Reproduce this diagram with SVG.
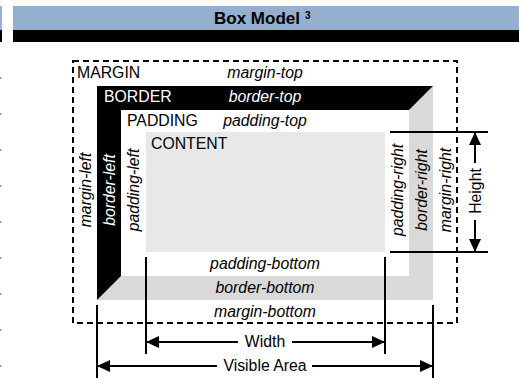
<svg xmlns="http://www.w3.org/2000/svg" width="519" height="379" viewBox="0 0 519 379">
<style>
text{font-family:"Liberation Sans",Arial,sans-serif;font-size:15.8px;fill:#000}
.it{font-style:italic}
.w{fill:#fff}
.m{text-anchor:middle}
.ln{stroke:#000;stroke-width:2;fill:none}
.dot{fill:#999}
</style>
<defs>
<marker id="arr" markerUnits="userSpaceOnUse" markerWidth="13" markerHeight="12" refX="13" refY="6" orient="auto">
<path d="M0,0 L13,6 L0,12 z" fill="#000"/>
</marker>
</defs>
<g id="header">
<rect x="0" y="6" width="2" height="24" fill="#95afce"/>
<rect x="0" y="30" width="2" height="12" fill="#000"/>
<rect x="13" y="6" width="506" height="24" fill="#95afce"/>
<rect x="13" y="30" width="506" height="12" fill="#000"/>
<text x="257" y="24" class="m" style="font-weight:bold;font-size:17px">Box Model</text>
<text x="305" y="19" style="font-weight:bold;font-size:10px">3</text>
</g>
<g id="edge-dots">
<rect class="dot" x="0" y="77" width="1.5" height="2"/>
<rect class="dot" x="0" y="113" width="1.5" height="2"/>
<rect class="dot" x="0" y="149" width="1.5" height="2"/>
<rect class="dot" x="0" y="185" width="1.5" height="2"/>
<rect class="dot" x="0" y="221" width="1.5" height="2"/>
<rect class="dot" x="0" y="257" width="1.5" height="2"/>
<rect class="dot" x="0" y="293" width="1.5" height="2"/>
<rect class="dot" x="0" y="329" width="1.5" height="2"/>
<rect class="dot" x="0" y="365" width="1.5" height="2"/>
</g>
<g id="margin">
<rect x="73" y="61" width="384" height="262" fill="#fff" stroke="#000" stroke-width="2" stroke-dasharray="6 4"/>
<text x="77" y="78">MARGIN</text>
<text x="265" y="78" class="it m">margin-top</text>
<text class="it m" transform="translate(90.5,190) rotate(-90)">margin-left</text>
<text class="it m" transform="translate(450.5,190) rotate(-90)">margin-right</text>
<text x="265" y="317" class="it m">margin-bottom</text>
</g>
<g id="border">
<polygon points="433,86 433,300 97,300 121,276 409,276 409,110" fill="#d9d9d9"/>
<polygon points="97,86 433,86 409,110 121,110 121,276 97,300" fill="#000"/>
<text x="104" y="102" class="w">BORDER</text>
<text x="265" y="102" class="it m w">border-top</text>
<text class="it m w" transform="translate(114.5,190) rotate(-90)">border-left</text>
<text class="it m" transform="translate(426.5,190) rotate(-90)">border-right</text>
<text x="265" y="293" class="it m">border-bottom</text>
</g>
<g id="padding">
<rect x="121" y="110" width="288" height="166" fill="#fff"/>
<text x="127" y="126">PADDING</text>
<text x="265" y="126" class="it m">padding-top</text>
<text class="it m" transform="translate(139,190) rotate(-90)">padding-left</text>
<text class="it m" transform="translate(402.5,190) rotate(-90)">padding-right</text>
<text x="265" y="269" class="it m">padding-bottom</text>
</g>
<g id="content">
<rect x="146" y="132" width="239" height="120" fill="#e8e8e8"/>
<text x="151" y="149">CONTENT</text>
</g>
<g id="connectors">
<line class="ln" x1="390" y1="132" x2="488" y2="132"/>
<line class="ln" x1="390" y1="252" x2="488" y2="252"/>
<line class="ln" x1="475" y1="163" x2="475" y2="132" marker-end="url(#arr)"/>
<line class="ln" x1="475" y1="220" x2="475" y2="252" marker-end="url(#arr)"/>
<line class="ln" x1="146" y1="257" x2="146" y2="354"/>
<line class="ln" x1="385" y1="257" x2="385" y2="354"/>
<line class="ln" x1="238" y1="342" x2="146" y2="342" marker-end="url(#arr)"/>
<line class="ln" x1="292" y1="342" x2="385" y2="342" marker-end="url(#arr)"/>
<line class="ln" x1="97" y1="305" x2="97" y2="378"/>
<line class="ln" x1="433" y1="305" x2="433" y2="378"/>
<line class="ln" x1="217" y1="366" x2="97" y2="366" marker-end="url(#arr)"/>
<line class="ln" x1="312" y1="366" x2="433" y2="366" marker-end="url(#arr)"/>
</g>
<g id="labels">
<text class="m" transform="translate(480.5,191) rotate(-90)">Height</text>
<text x="265" y="347" class="m">Width</text>
<text x="265" y="371" class="m">Visible Area</text>
</g>
</svg>
